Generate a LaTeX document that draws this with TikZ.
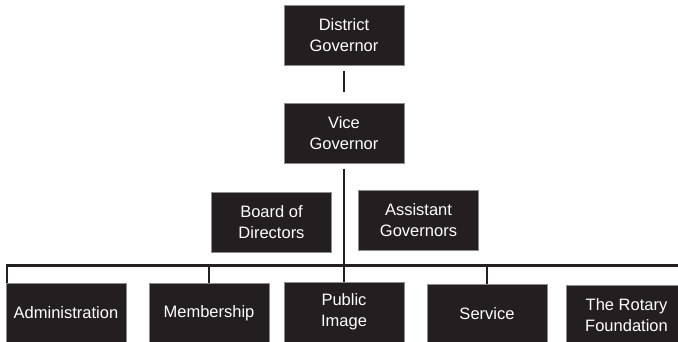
\documentclass[tikz,border=0pt]{standalone}
\usepackage{fontspec}
\setmainfont{Liberation Sans}
\usetikzlibrary{calc}
\definecolor{boxblack}{HTML}{231F20}
\tikzset{
  office/.style={fill=boxblack, draw=black!45, line width=0.4pt, text=white,
    minimum width=120, minimum height=60, inner sep=0pt, align=center,
    font=\fontsize{16.5}{21}\selectfont},
  link/.style={draw=boxblack, line width=2.2pt}
}

\begin{document}
\begin{tikzpicture}[x=1pt, y=-1pt]
		%%%%% START %%%%%
		
		\fill[white] (0, 0) rectangle (678, 342);
		\useasboundingbox (0, 0) rectangle (678, 342);
		
		% top of the chart
		\node[office] (dg) at (344, 35.5) {District\\Governor};
		\node[office] (vg) at (344, 133.5) {Vice\\Governor};
		
		\node[office] (bod) at (271.5, 222) {Board of\\Directors};
		\node[office] (ag) at (418.5, 220) {Assistant\\Governors};
		
		% committees
		\node[office] (adm) at (66, 313) {Administration};
		\node[office] (mem) at (209, 313) {Membership};
		\node[office] (pub) at (344, 312) {Public\\Image};
		\node[office] (ser) at (487, 314) {Service};
		\node[office] (trf) at (626.5, 315) {The Rotary\\Foundation};
		
		\coordinate (barL) at (7, 265.5);
		\coordinate (barR) at (680, 265.5);
		
		\draw[link, shorten <=5pt, shorten >=11pt] (dg) -- (vg);
		\draw[link, shorten <=5pt] (vg) -- (pub);
		
		\draw[link, line join=miter] (barL |- adm.north) -- (barL) -- (barR);
		\draw[link] (mem.north |- barL) -- (mem.north);
		\draw[link] (ser.north |- barL) -- (ser.north);
		
		%%%%% END %%%%%
\end{tikzpicture}
\end{document}
